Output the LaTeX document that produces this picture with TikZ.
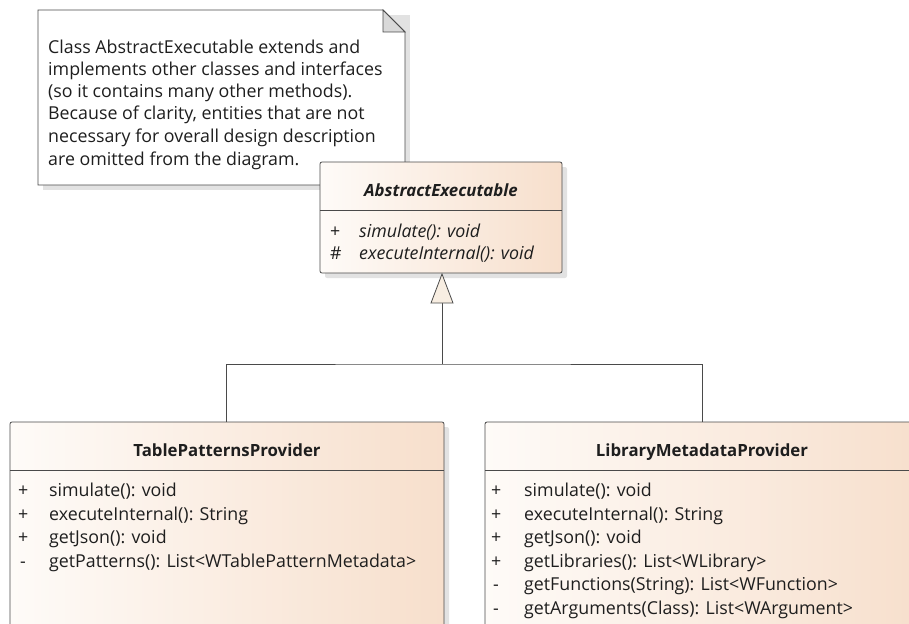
\documentclass[tikz,border=0pt]{standalone}
\usepackage{fontspec}
\setmainfont{Open Sans}
\usetikzlibrary{shapes.geometric}
\definecolor{linec}{HTML}{4A4A4A}
\definecolor{peachL}{HTML}{FEFBF8}
\definecolor{peachR}{HTML}{F7DFCC}
\definecolor{shadowc}{HTML}{E2E2E2}
\definecolor{foldc}{HTML}{D9D9D9}
\definecolor{tric}{HTML}{F8EEE2}
\definecolor{txtc}{HTML}{1E1E1E}
\newcommand{\rsz}{\fontsize{17.8}{20}\selectfont}
\newcommand{\tsz}{\fontsize{16.8}{20}\selectfont}
\begin{document}
\begin{tikzpicture}[x=1pt,y=-1pt,
  classbox/.style={draw=linec, line width=0.8pt, rounded corners=2pt, left color=peachL, right color=peachR},
  conn/.style={draw=linec, line width=0.8pt},
  txt/.style={inner sep=0pt, anchor=base west, font=\rsz, text=txtc},
  itxt/.style={inner sep=0pt, anchor=base west, font=\rsz\itshape, text=txtc},
  ttl/.style={inner sep=0pt, anchor=base, font=\tsz\bfseries, text=txtc}
  ]
\useasboundingbox (0,0) rectangle (909,623);
% ---------- note ----------
\fill[shadowc] (43,15) -- (410,15) -- (410,190) -- (43,190) -- cycle;
\draw[linec, line width=0.8pt, fill=white] (38,10) -- (383,10) -- (405,32) -- (405,185) -- (38,185) -- cycle;
\draw[linec, line width=0.8pt, fill=foldc] (383,10) -- (383,32) -- (405,32) -- cycle;
\node[txt] (n1) at (48,54) {Class AbstractExecutable extends and};
\node[txt] (n2) at (48,76) {implements other classes and interfaces};
\node[txt] (n3) at (48,98) {(so it contains many other methods).};
\node[txt] (n4) at (48,120) {Because of clarity, entities that are not};
\node[txt] (n5) at (48,142) {necessary for overall design description};
\node[txt] (n6) at (48,165) {are omitted from the diagram.};
% ---------- AbstractExecutable ----------
\fill[shadowc, rounded corners=2pt] (325,167) rectangle (567,278);
\draw[classbox] (320,162) rectangle (562,273);
\draw[linec, line width=0.8pt] (320,210) -- (562,210);
\node[ttl, font=\tsz\bfseries\itshape] (aet) at (441,196) {AbstractExecutable};
\node[txt] (aep1) at (330,237) {+};
\node[itxt] (aem1) at (359,237) {simulate(): void};
\node[txt] (aep2) at (330,259) {\#};
\node[itxt] (aem2) at (359,259) {executeInternal(): void};
\coordinate (aeb) at (441,273);
% ---------- TablePatternsProvider ----------
\fill[shadowc, rounded corners=2pt] (15,427) rectangle (449,640);
\draw[classbox] (10,422) rectangle (444,640);
\draw[linec, line width=0.8pt] (10,470) -- (444,470);
\node[ttl] (tpt) at (227,456) {TablePatternsProvider};
\node[txt] (tp1s) at (18,496) {+};
\node[txt] (tp1) at (49,496) {simulate(): void};
\node[txt] (tp2s) at (18,520) {+};
\node[txt] (tp2) at (49,520) {executeInternal(): String};
\node[txt] (tp3s) at (18,543) {+};
\node[txt] (tp3) at (49,543) {getJson(): void};
\node[txt] (tp4s) at (20,567) {-};
\node[txt] (tp4) at (49,567) {getPatterns(): List<WTablePatternMetadata>};
\coordinate (tptop) at (226,422);
% ---------- LibraryMetadataProvider ----------
\fill[shadowc, rounded corners=2pt] (490,427) rectangle (930,640);
\draw[classbox] (485,422) rectangle (925,640);
\draw[linec, line width=0.8pt] (485,470) -- (925,470);
\node[ttl] (lmt) at (702,456) {LibraryMetadataProvider};
\node[txt] (lm1s) at (491,496) {+};
\node[txt] (lm1) at (524,496) {simulate(): void};
\node[txt] (lm2s) at (491,520) {+};
\node[txt] (lm2) at (524,520) {executeInternal(): String};
\node[txt] (lm3s) at (491,543) {+};
\node[txt] (lm3) at (524,543) {getJson(): void};
\node[txt] (lm4s) at (491,567) {+};
\node[txt] (lm4) at (524,567) {getLibraries(): List<WLibrary>};
\node[txt] (lm5s) at (493,590) {-};
\node[txt] (lm5) at (524,590) {getFunctions(String): List<WFunction>};
\node[txt] (lm6s) at (493,614) {-};
\node[txt] (lm6) at (524,614) {getArguments(Class): List<WArgument>};
\coordinate (lmtop) at (702,422);
% ---------- generalization ----------
\coordinate (trib) at (442,303);
\coordinate (junc) at (442,364);
\draw[conn] (tptop) |- (junc) -| (lmtop);
\draw[conn] (junc) -- (trib);
\draw[conn, fill=tric, line join=miter] (442,274) -- (453,303) -- (431,303) -- cycle;
\end{tikzpicture}
\end{document}
